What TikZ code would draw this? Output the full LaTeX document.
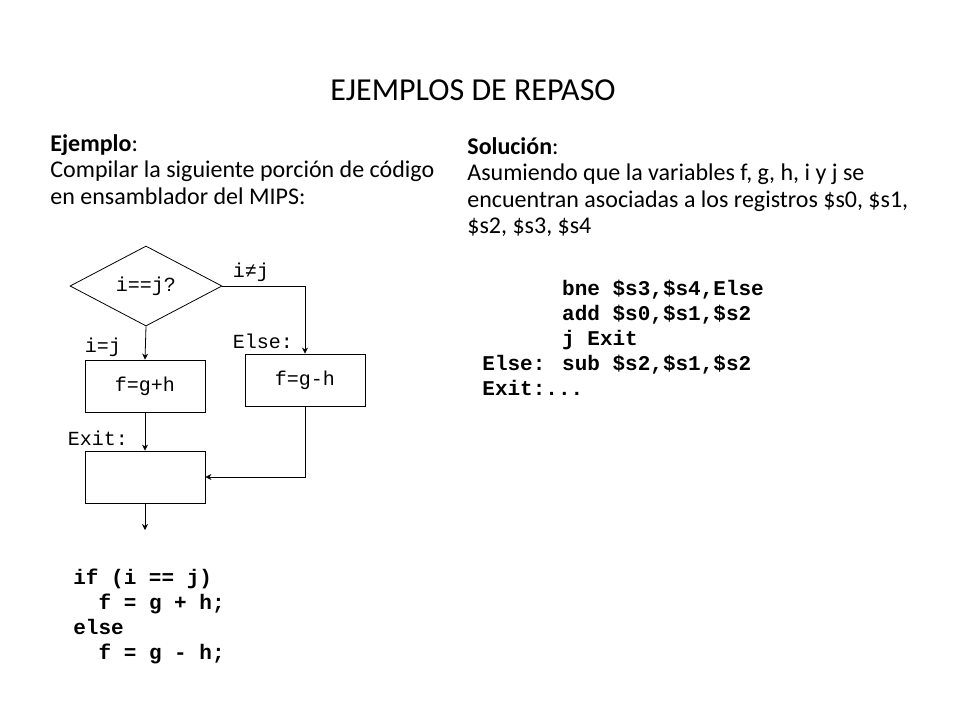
\documentclass[tikz,border=0pt]{standalone}
\usepackage{fontspec}
\setmainfont{Carlito}
\newfontfamily\codefont{Liberation Mono}
\usetikzlibrary{shapes.geometric}
\usetikzlibrary{arrows.meta}

\tikzset{
  box/.style={draw,thin,minimum width=60pt,minimum height=26pt,font=\codefont\fontsize{10}{12}\selectfont},
  lbl/.style={font=\codefont\fontsize{10}{12}\selectfont,inner sep=0pt},
  txt/.style={font=\fontsize{12}{13.2}\selectfont,anchor=west,inner sep=0pt,align=left},
  code/.style={font=\codefont\bfseries\fontsize{10.5}{12.5}\selectfont,anchor=north west,inner sep=0pt,align=left},
  flow/.style={-{Stealth[length=3pt,width=3pt]},thin}
}

\begin{document}
\begin{tikzpicture}[x=0.5pt,y=-0.5pt]
\useasboundingbox (0,0) rectangle (960,720);
\node[font=\fontsize{16}{18}\selectfont] (title) at (473,90) {EJEMPLOS DE REPASO};

% enunciado
\node[txt,anchor=north west] (ejemplo) at (50,134) {\textbf{Ejemplo}:\\
Compilar la siguiente porción de código\\
en ensamblador del MIPS:};

% solucion
\node[txt,anchor=north west] (solucion) at (467,137) {\textbf{Solución}:\\
Asumiendo que la variables f, g, h, i y j se\\
encuentran asociadas a los registros \$s0, \$s1,\\
\$s2, \$s3, \$s4};

\node[code] (asm) at (482,280) {\phantom{Else: }bne \$s3,\$s4,Else\\
\phantom{Else: }add \$s0,\$s1,\$s2\\
\phantom{Else: }j Exit\\
Else: sub \$s2,\$s1,\$s2\\
Exit:...};

% diagrama de flujo
\node[draw,thin,diamond,aspect=1.9,minimum width=76pt,minimum height=40pt,inner sep=0pt,
  font=\codefont\fontsize{10}{12}\selectfont] (cond) at (146,286) {i==j?};
\node[box] (then) at (145,386) {f=g+h};
\node[box] (else) at (305,380) {f=g-h};
\node[box] (exit) at (145,477) {};
\coordinate (fin) at (145,530);
\coordinate (corner) at (305,286);

\draw[flow] (cond.south) -- (then.north);
\draw[flow] (cond.east) -- (corner) -- (else.north);
\draw[flow] (then.south) -- (exit.north);
\draw[flow] (else.south) |- (exit.east);
\draw[flow] (exit.south) -- (fin);

\node[lbl] (ne) at (251,272) {i≠j};
\node[lbl] (eq) at (103,347) {i=j};
\node[lbl] (elselbl) at (263,341) {Else:};
\node[lbl] (exitlbl) at (98,438) {Exit:};

\node[code] (src) at (73,569) {if (i == j)\\
\ \ f = g + h;\\
else\\
\ \ f = g - h;};
\end{tikzpicture}
\end{document}
